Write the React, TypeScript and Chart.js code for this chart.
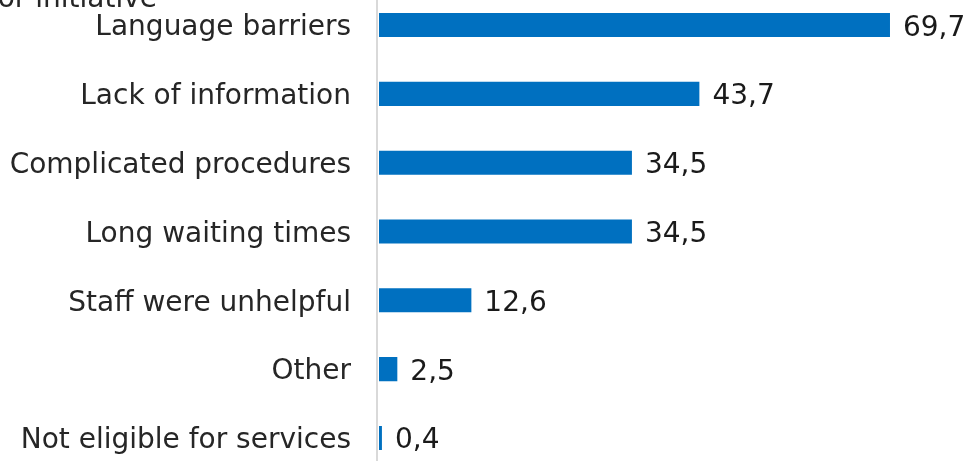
import React, { useEffect, useRef } from "react";
import { Chart, registerables } from "chart.js";

Chart.register(...registerables);

const categories = [
  "Language barriers",
  "Lack of information",
  "Complicated procedures",
  "Long waiting times",
  "Staff were unhelpful",
  "Other",
  "Not eligible for services",
];
const values = [69.7, 43.7, 34.5, 34.5, 12.6, 2.5, 0.4];
const topText = "or initiative";

const FONT = "'DejaVu Sans', Verdana, sans-serif";
const FONT_SIZE = 28;
const SHIFT = 30;

const valueLabels = {
  id: "valueLabels",
  afterDatasetsDraw(chart: any) {
    const ctx = chart.ctx;
    const meta = chart.getDatasetMeta(0);
    ctx.save();
    ctx.font = `${FONT_SIZE}px ${FONT}`;
    ctx.fillStyle = "#1a1a1a";
    ctx.textAlign = "left";
    ctx.textBaseline = "alphabetic";
    meta.data.forEach((bar: any, i: number) => {
      const txt = values[i].toFixed(1).replace(".", ",");
      ctx.fillText(txt, bar.x + 13, bar.y + 10.5);
    });
    ctx.restore();
  },
};

const axisLine = {
  id: "axisLine",
  afterDatasetsDraw(chart: any) {
    const ctx = chart.ctx;
    const x = chart.chartArea.left - 2;
    ctx.save();
    ctx.strokeStyle = "#d9d9d9";
    ctx.lineWidth = 2;
    ctx.beginPath();
    ctx.moveTo(x, 0);
    ctx.lineTo(x, chart.height);
    ctx.stroke();
    ctx.restore();
  },
};

const topLabel = {
  id: "topLabel",
  afterDraw(chart: any) {
    const ctx = chart.ctx;
    ctx.save();
    ctx.font = `${FONT_SIZE}px ${FONT}`;
    ctx.fillStyle = "#262626";
    ctx.textAlign = "right";
    ctx.textBaseline = "alphabetic";
    ctx.fillText(topText, 157, 7 + SHIFT);
    ctx.restore();
  },
};

export default function App() {
  const ref = useRef<HTMLCanvasElement | null>(null);
  useEffect(() => {
    if (!ref.current) return;
    const chart = new Chart(ref.current, {
      type: "bar",
      data: {
        labels: categories,
        datasets: [
          {
            data: values,
            backgroundColor: "#0070C0",
            borderWidth: 0,
            barPercentage: 0.35,
            categoryPercentage: 1,
          },
        ],
      },
      options: {
        indexAxis: "y",
        responsive: false,
        animation: false,
        layout: { padding: { top: SHIFT - 9.4, bottom: 530 - SHIFT - 472.4, right: 6.5, left: 0 } },
        plugins: {
          legend: { display: false },
          tooltip: { enabled: false },
        },
        scales: {
          x: {
            display: false,
            min: 0,
            max: 80,
          },
          y: {
            grid: {
              display: true,
              drawOnChartArea: false,
              drawTicks: true,
              tickLength: 28,
              color: "rgba(0,0,0,0)",
            },
            border: { display: false },
            ticks: {
              color: "#262626",
              padding: 0,
              labelOffset: 3,
              font: { family: FONT, size: FONT_SIZE },
            },
            afterFit(axis: any) {
              axis.width = 379;
            },
          },
        },
      },
      plugins: [axisLine, valueLabels, topLabel],
    });
    return () => chart.destroy();
  }, []);
  return (
    <div style={{ position: "fixed", left: 0, top: 0, width: 972, height: 461, overflow: "hidden", background: "#fff" }}>
      <canvas ref={ref} width={972} height={530} style={{ position: "absolute", left: 0, top: -SHIFT, width: 972, height: 530 }} />
    </div>
  );
}
